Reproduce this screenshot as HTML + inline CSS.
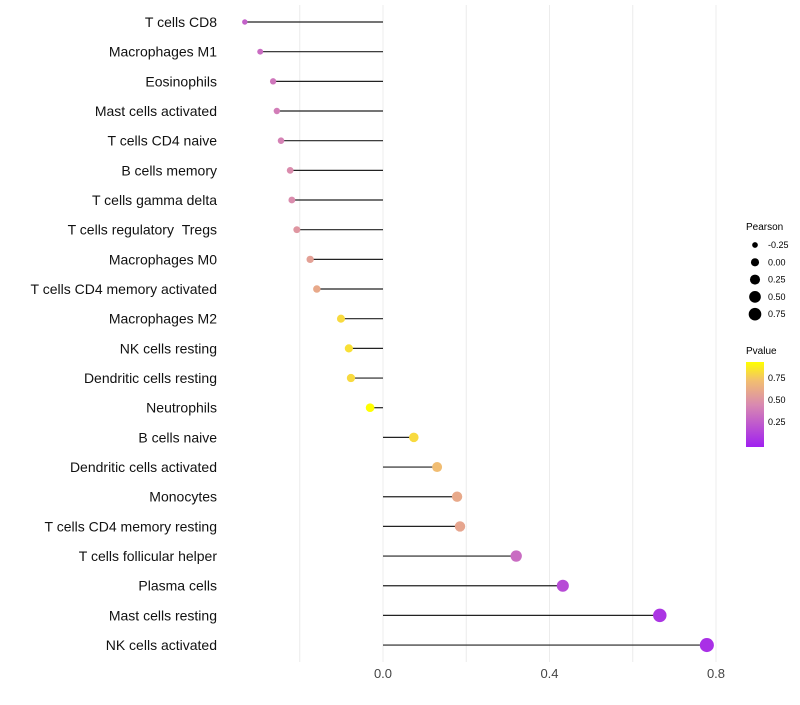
<!DOCTYPE html>
<html><head><meta charset="utf-8"><style>
body{margin:0;background:#fff;font-family:"Liberation Sans",sans-serif}
</style></head><body>
<svg id="chart" width="800" height="700" xmlns="http://www.w3.org/2000/svg" font-family="Liberation Sans, sans-serif">
<defs><linearGradient id="pg" x1="0" y1="1" x2="0" y2="0">
<stop offset="0" stop-color="#A020F0"/><stop offset="0.5" stop-color="#D98AB0"/><stop offset="0.78" stop-color="#F2BE70"/><stop offset="1" stop-color="#FFFF00"/></linearGradient></defs>
<g id="grid"></g><g id="marks"></g><g id="labels"></g>
<g font-size="9">
<text x="746" y="230" font-size="10">Pearson</text>
<g id="sizeLegend"></g>
<text x="746" y="354" font-size="10">Pvalue</text>
<rect x="746" y="362" width="18" height="85" fill="url(#pg)"/>
<text x="768" y="381">0.75</text>
<text x="768" y="403">0.50</text>
<text x="768" y="425">0.25</text>
</g>
</svg>
<script>
const categories=["T cells CD8","Macrophages M1","Eosinophils","Mast cells activated","T cells CD4 naive","B cells memory","T cells gamma delta","T cells regulatory \u00a0Tregs","Macrophages M0","T cells CD4 memory activated","Macrophages M2","NK cells resting","Dendritic cells resting","Neutrophils","B cells naive","Dendritic cells activated","Monocytes","T cells CD4 memory resting","T cells follicular helper","Plasma cells","Mast cells resting","NK cells activated"];
const pearson=[-0.332,-0.295,-0.264,-0.255,-0.245,-0.223,-0.219,-0.207,-0.175,-0.159,-0.101,-0.082,-0.077,-0.031,0.074,0.130,0.178,0.185,0.320,0.432,0.665,0.778];
const pvalue=[0.25,0.3,0.35,0.38,0.4,0.45,0.45,0.5,0.55,0.6,0.8,0.82,0.8,0.92,0.8,0.7,0.6,0.58,0.3,0.15,0.05,0.03];
const xTicks=[0,0.4,0.8];
const gridVals=[-0.2,0,0.2,0.4,0.6,0.8];
const sizeLegendVals=[-0.25,0,0.25,0.5,0.75];
const NS="http://www.w3.org/2000/svg";
const x=v=>383+v*416.25;
const y=i=>22+i*29.67;
const r=v=>Math.sqrt(Math.max(4,20+38*v));
function lerp(a,b,t){return Math.round(a+(b-a)*t);}
const stops=[[0,[160,32,240]],[0.5,[217,138,176]],[0.78,[242,190,112]],[1,[255,255,0]]];
function color(p){let t=Math.max(0,Math.min(1,(p+0.045)/0.965));for(let k=1;k<stops.length;k++){if(t<=stops[k][0]){const a=stops[k-1],b=stops[k];const u=(t-a[0])/(b[0]-a[0]);return`rgb(${lerp(a[1][0],b[1][0],u)},${lerp(a[1][1],b[1][1],u)},${lerp(a[1][2],b[1][2],u)})`;}}return"rgb(255,255,0)";}
function mk(t,at,p){const e=document.createElementNS(NS,t);for(const k in at)e.setAttribute(k,at[k]);p.appendChild(e);return e;}
const grid=document.getElementById('grid'),marks=document.getElementById('marks'),labels=document.getElementById('labels');
gridVals.forEach(v=>{const l=mk('line',{x1:x(v),x2:x(v),y1:5,y2:662,stroke:'#ececec','stroke-width':1},grid);

});
categories.forEach((c,i)=>{const yy=y(i);
const t=mk('text',{x:217,y:yy+5,'text-anchor':'end','font-size':14,fill:'#111'},labels);t.textContent=c;


const l=mk('line',{x1:x(0),x2:x(pearson[i]),y1:yy,y2:yy,stroke:'#222','stroke-width':1.2},marks);


const d=mk('circle',{cx:x(pearson[i]),cy:yy,r:r(pearson[i]),fill:color(pvalue[i])},marks);

});
xTicks.forEach(v=>{const t=mk('text',{x:x(v),y:678,'text-anchor':'middle','font-size':13,fill:'#444'},labels);t.textContent=v.toFixed(1);

});
const sl=document.getElementById('sizeLegend');
sizeLegendVals.forEach((v,i)=>{const yy=245+i*17.3;
const c=mk('circle',{cx:755,cy:yy,r:Math.min(6.3,r(v)-0.4),fill:'#000'},sl);


const t=mk('text',{x:768,y:yy+3,'font-size':9},sl);t.textContent=v.toFixed(2);

});
</script>
</body></html>
